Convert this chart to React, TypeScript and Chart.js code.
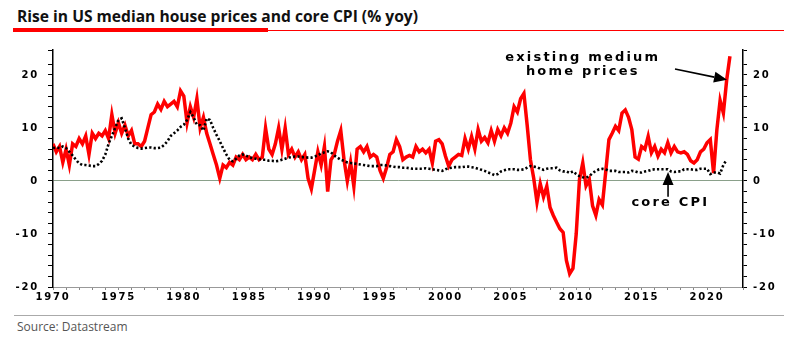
import React, { useEffect, useRef } from 'react';
import { Chart, registerables } from 'chart.js';

Chart.register(...registerables);

// Quarterly observations, starting 1970 Q1
const START_YEAR = 1970;
const STEP = 0.25;

// Existing median home prices, % yoy (quarterly reading of the chart)
const houseValues = [
  7, 5.5, 6.5, 3.5,
  6, 3, 7, 6.5,
  8, 7, 8.5, 5,
  9, 8, 9, 8.5,
  9.5, 8, 12.5, 9,
  11, 9, 10.5, 8.5,
  9.5, 7, 7, 6.5,
  7.5, 10, 12.5, 13,
  14.5, 13.5, 15, 14,
  14.5, 15, 14, 17,
  16, 11, 14, 12,
  15.5, 10, 12, 9,
  7, 5, 3, 0.5,
  3, 2.5, 3.5, 3,
  4.5, 4, 5, 4,
  4.5, 4, 5, 4,
  4.5, 10, 6, 5,
  7, 10, 6, 10,
  5, 6, 4.5, 5.5,
  4, 5, 0.5, -1.5,
  2, 5.5, 3, 6.5,
  -2, 4, 5, 7.5,
  9.5, 4, 0, 3.5,
  -1, 6, 6.5, 5.5,
  6.5, 4.5, 5, 4.5,
  2, 0.5, 2.5, 5,
  5.5, 7.8, 6.5, 4,
  4.5, 4.8, 4.5, 6.5,
  5.5, 6, 5.3, 6,
  3.4, 7.5, 7.8, 7,
  4.7, 2.8, 4, 4.5,
  5, 4.8, 8, 6,
  8.4, 6, 9.7, 7.5,
  8.2, 7.2, 9.5, 7.5,
  9.7, 8.5, 10, 9,
  10.9, 14, 13, 15.5,
  16.5, 10.5, 4, 0.5,
  -4, -0.5, -3, -1,
  -5, -6.5, -7.8, -9,
  -9.7, -15, -17.5, -16.5,
  -10, 0.3, 3.4, -0.9,
  0.3, -4.7, -6.5, -3.5,
  -4.5, 1.6, 7.8, 9,
  10.3, 9.5, 12.8, 13.4,
  12, 9.7, 4.5, 4.1,
  6.5, 6, 8.4, 5.3,
  6.5, 4.7, 6, 5.3,
  7.2, 5.3, 6.5, 5.5,
  5.3, 5.5, 5, 3.8,
  3.4, 4, 5.5, 6,
  7.2, 7.8, 1.5, 9.6,
  15.2, 12.8, 19, 23.5,
];

// Core CPI, % yoy (quarterly reading of the chart)
const cpiValues = [
  6.2, 6.3, 6.2, 6.5,
  6.2, 5.5, 4.8, 4,
  3.3, 3, 3, 2.9,
  2.8, 2.8, 3.2, 3.8,
  5, 7, 8.5, 10,
  11.5, 11.8, 10, 8,
  6.8, 6.5, 6.2, 6.1,
  6.2, 6.3, 6.3, 6.2,
  6.2, 6.3, 6.8, 7.5,
  8.5, 9, 9.5, 10.2,
  10.6, 11.5, 13, 12,
  10.6, 10.5, 9.5, 11.8,
  11.5, 10, 8.7, 7.5,
  6.2, 5, 4, 3.7,
  4.2, 4.8, 5, 4.8,
  4.5, 4.3, 4.2, 4.1,
  4, 4, 3.8, 3.8,
  3.7, 3.8, 4, 4.2,
  4.4, 4.5, 4.6, 4.6,
  4.5, 4.5, 4.4, 4.4,
  4.6, 4.8, 5.2, 5.4,
  5.6, 5.4, 4.8, 4.4,
  4, 3.8, 3.5, 3.4,
  3.3, 3.2, 3.1, 3,
  2.9, 2.8, 2.8, 2.8,
  3, 3, 2.9, 2.8,
  2.7, 2.6, 2.6, 2.5,
  2.5, 2.4, 2.3, 2.3,
  2.3, 2.3, 2.4, 2.3,
  2.2, 2.1, 2.0, 1.9,
  2.2, 2.4, 2.5, 2.6,
  2.6, 2.6, 2.7, 2.7,
  2.6, 2.5, 2.3, 2.1,
  1.9, 1.6, 1.4, 1.1,
  1.3, 1.8, 2.0, 2.2,
  2.2, 2.2, 2.1, 2.1,
  2.2, 2.5, 2.8, 2.7,
  2.6, 2.3, 2.1, 2.3,
  2.4, 2.4, 2.5, 2.0,
  1.8, 1.8, 1.5, 1.8,
  1.3, 0.9, 0.7, 0.6,
  0.9, 1.5, 1.9, 2.2,
  2.3, 2.2, 1.9, 1.9,
  1.9, 1.7, 1.7, 1.7,
  1.6, 1.9, 1.8, 1.6,
  1.6, 1.8, 1.9, 2.1,
  2.2, 2.2, 2.2, 2.2,
  2.2, 1.8, 1.7, 1.8,
  1.8, 2.2, 2.2, 2.2,
  2.1, 2.1, 2.3, 2.3,
  2.3, 1.3, 1.6, 1.6,
  1.4, 3.0, 4.0,
];

const xLabelYears = [1970, 1975, 1980, 1985, 1990, 1995, 2000, 2005, 2010, 2015, 2020];
const yLabelValues = [-20, -10, 0, 10, 20];
const X_MIN = 1970;
const X_MAX = 2022.75;
const Y_MIN = -20;
const Y_MAX = 24.7;

const TITLE = 'Rise in US median house prices and core CPI (% yoy)';
const SOURCE = 'Source: Datastream';
const ANNOT_HOUSE = ['existing medium', 'home prices'];
const ANNOT_CPI = 'core CPI';

const tickFont = { family: '"DejaVu Sans", sans-serif', size: 10, weight: 'bold' as const };

function drawArrow(ctx: CanvasRenderingContext2D, x1: number, y1: number, x2: number, y2: number) {
  const ang = Math.atan2(y2 - y1, x2 - x1);
  const headLen = 13;
  const headW = 5.5;
  const bx = x2 - headLen * Math.cos(ang);
  const by = y2 - headLen * Math.sin(ang);
  ctx.beginPath();
  ctx.moveTo(x1, y1);
  ctx.lineTo(bx, by);
  ctx.lineWidth = 1.6;
  ctx.strokeStyle = '#000';
  ctx.stroke();
  ctx.beginPath();
  ctx.moveTo(x2, y2);
  ctx.lineTo(bx + headW * Math.sin(ang), by - headW * Math.cos(ang));
  ctx.lineTo(bx - headW * Math.sin(ang), by + headW * Math.cos(ang));
  ctx.closePath();
  ctx.fillStyle = '#000';
  ctx.fill();
}

const spacingPlugin = {
  id: 'spacing',
  beforeDraw(chart: any) {
    (chart.ctx as any).letterSpacing = '1.8px';
  },
};

const annotationPlugin = {
  id: 'annotations',
  afterDatasetsDraw(chart: any) {
    const { ctx } = chart;
    const x = chart.scales.x;
    const y = chart.scales.y;
    ctx.save();
    (ctx as any).letterSpacing = '2.2px';
    ctx.font = 'bold 13px "DejaVu Sans", sans-serif';
    ctx.fillStyle = '#000';
    ctx.textAlign = 'center';
    ctx.textBaseline = 'middle';
    ctx.fillText(ANNOT_HOUSE[0], x.getPixelForValue(2010.5), y.getPixelForValue(23.2));
    ctx.fillText(ANNOT_HOUSE[1], x.getPixelForValue(2010.5), y.getPixelForValue(20.6));
    ctx.fillText(ANNOT_CPI, x.getPixelForValue(2017.2), y.getPixelForValue(-4.1));
    drawArrow(ctx, x.getPixelForValue(2017.55), y.getPixelForValue(21.1), x.getPixelForValue(2021.53), y.getPixelForValue(19.1));
    drawArrow(ctx, x.getPixelForValue(2017.02), y.getPixelForValue(-3.0), x.getPixelForValue(2017.02), y.getPixelForValue(1.7));
    ctx.restore();
  },
};

function ChartCanvas() {
  const ref = useRef<HTMLCanvasElement | null>(null);
  useEffect(() => {
    if (!ref.current) return;
    const house = houseValues.map((v, i) => ({ x: START_YEAR + i * STEP, y: v }));
    const cpi = cpiValues.map((v, i) => ({ x: START_YEAR + i * STEP, y: v }));
    const yTickCb = (v: any) => (yLabelValues.includes(Number(v)) ? String(v) : '');
    const chart = new Chart(ref.current, {
      type: 'line',
      data: {
        datasets: [
          {
            label: 'core CPI',
            data: cpi,
            borderColor: '#000',
            borderWidth: 2.6,
            borderDash: [2.2, 2.2],
            pointRadius: 0,
            tension: 0,
            order: 0,
            yAxisID: 'y',
          },
          {
            label: 'existing medium home prices',
            data: house,
            borderColor: '#ff0000',
            borderWidth: 3.5,
            pointRadius: 0,
            tension: 0,
            order: 1,
            yAxisID: 'y',
          },
        ],
      },
      options: {
        animation: false,
        responsive: false,
        devicePixelRatio: 1,
        layout: { padding: { top: 13, left: 0, right: 0, bottom: 0 } },
        plugins: { legend: { display: false }, tooltip: { enabled: false }, title: { display: false } },
        scales: {
          x: {
            type: 'linear',
            min: X_MIN,
            max: X_MAX,
            afterFit: (s: any) => { s.height = 23; },
            ticks: {
              stepSize: 1,
              autoSkip: false,
              maxRotation: 0,
              color: '#000',
              font: tickFont,
              padding: 1,
              callback: (v: any) => (xLabelYears.includes(Number(v)) ? String(v) : ''),
            },
            grid: { drawOnChartArea: false, tickColor: '#888', tickLength: 3 },
            border: { color: '#999', width: 1, dash: [1, 1] },
          },
          y: {
            type: 'linear',
            position: 'left',
            min: Y_MIN,
            max: Y_MAX,
            afterFit: (s: any) => { s.width = 53; },
            ticks: { stepSize: 2, autoSkip: false, color: '#000', font: tickFont, padding: 9, callback: yTickCb },
            grid: {
              drawOnChartArea: true,
              color: (c: any) => (c.tick && c.tick.value === 0 ? '#8aa08a' : 'rgba(0,0,0,0)'),
              tickColor: '#000',
              tickLength: 5,
              lineWidth: 1,
            },
            border: { color: '#000', width: 1.5 },
          },
          y2: {
            type: 'linear',
            position: 'right',
            display: true,
            min: Y_MIN,
            max: Y_MAX,
            afterFit: (s: any) => { s.width = 49; },
            ticks: { stepSize: 2, autoSkip: false, color: '#000', font: tickFont, padding: 6, callback: yTickCb },
            grid: { drawOnChartArea: false, tickColor: '#000', tickLength: 4 },
            border: { color: '#000', width: 1.5 },
          },
        },
      },
      plugins: [spacingPlugin, annotationPlugin],
    });
    return () => chart.destroy();
  }, []);
  return <canvas ref={ref} width={792} height={275} style={{ position: 'absolute', left: 0, top: 35 }} />;
}

export default function App() {
  return (
    <div style={{ position: 'relative', width: 792, height: 343, margin: -8, background: '#fff', overflow: 'hidden' }}>
      <div style={{ position: 'absolute', left: 17, top: 5, font: 'bold 15.6px "Open Sans", sans-serif', color: '#111', whiteSpace: 'nowrap' }}>
        {TITLE}
      </div>
      <div style={{ position: 'absolute', left: 13, top: 28, width: 255, height: 4, background: '#ff0000' }} />
      <div style={{ position: 'absolute', left: 268, top: 29.5, width: 524, height: 1, background: '#ff0000' }} />
      <ChartCanvas />
      <div style={{ position: 'absolute', left: 14, top: 315, width: 778, height: 1, background: '#aaa' }} />
      <div style={{ position: 'absolute', left: 17, top: 318, font: '12px "Open Sans", sans-serif', color: '#555', whiteSpace: 'nowrap' }}>
        {SOURCE}
      </div>
    </div>
  );
}
